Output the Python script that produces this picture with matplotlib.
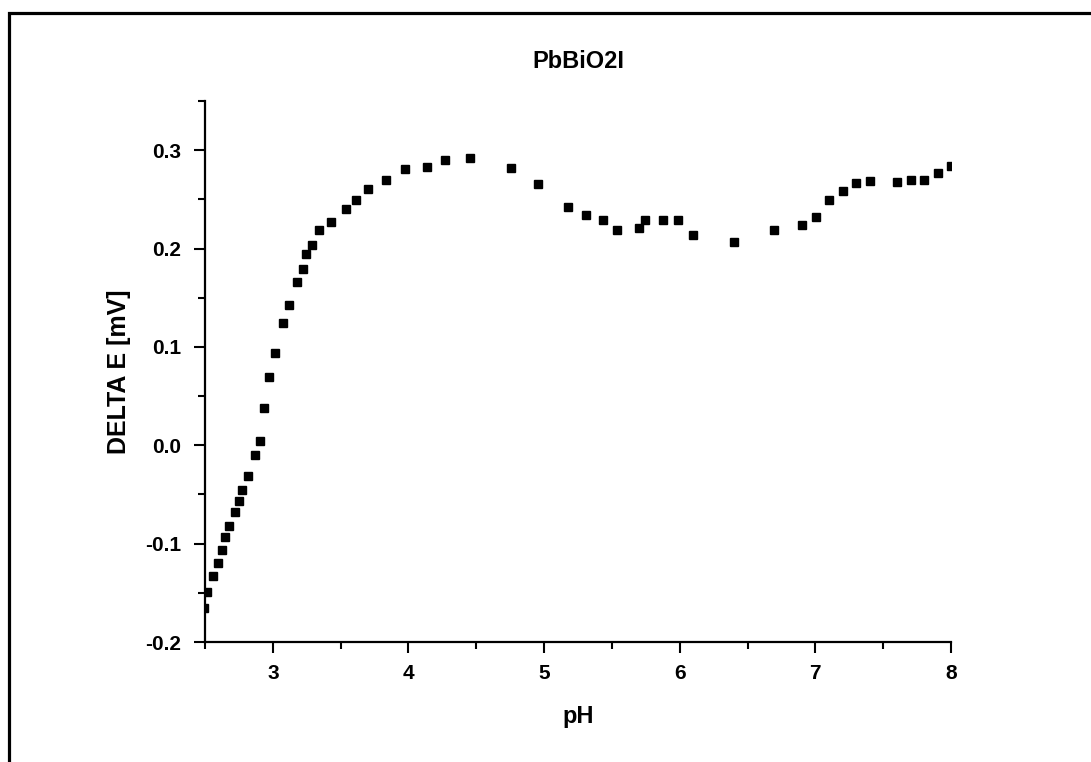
import matplotlib
matplotlib.use('Agg')
import matplotlib.pyplot as plt
from matplotlib.ticker import MultipleLocator
from matplotlib.patches import Rectangle

plt.rcParams['font.family'] = ['Liberation Sans', 'DejaVu Sans']
plt.rcParams['font.weight'] = 'bold'

# pH values and potential difference
ph = [2.495, 2.517, 2.557, 2.598, 2.628, 2.648, 2.680, 2.722, 2.749, 2.773,
      2.820, 2.869, 2.906, 2.938, 2.975, 3.019, 3.074, 3.118, 3.177, 3.221,
      3.248, 3.290, 3.342, 3.431, 3.539, 3.613, 3.704, 3.832, 3.975, 4.134,
      4.273, 4.457, 4.755, 4.954, 5.176, 5.306, 5.434, 5.535, 5.698, 5.747,
      5.875, 5.988, 6.097, 6.400, 6.697, 6.899, 7.003, 7.101, 7.202, 7.301,
      7.402, 7.601, 7.702, 7.800, 7.904, 8.000]
delta_e = [-0.165, -0.149, -0.133, -0.120, -0.106, -0.093, -0.082, -0.068, -0.057, -0.045,
           -0.031, -0.010, 0.004, 0.038, 0.069, 0.094, 0.124, 0.143, 0.166, 0.179,
           0.194, 0.204, 0.219, 0.227, 0.240, 0.249, 0.261, 0.270, 0.281, 0.283,
           0.290, 0.292, 0.282, 0.266, 0.242, 0.234, 0.229, 0.219, 0.221, 0.229,
           0.229, 0.229, 0.214, 0.207, 0.219, 0.224, 0.232, 0.249, 0.259, 0.267,
           0.269, 0.268, 0.270, 0.270, 0.277, 0.284]

fig = plt.figure(figsize=(10.91, 7.62), dpi=100)
ax = fig.add_axes([205 / 1091, 1 - 642 / 762, (951 - 205) / 1091, (642 - 101) / 762])

ax.plot(ph, delta_e, 's', color='black', markersize=5.2, clip_on=True)

ax.set_xlim(2.5, 8)
ax.set_ylim(-0.2, 0.35)
ax.xaxis.set_major_locator(MultipleLocator(1))
ax.xaxis.set_minor_locator(MultipleLocator(0.5))
ax.yaxis.set_minor_locator(MultipleLocator(0.05))
ax.set_yticks([-0.2, -0.1, 0.0, 0.1, 0.2, 0.3])
ax.set_yticklabels(['-0.2', '-0.1', '0.0', '0.1', '0.2', '0.3'])

for s in ['top', 'right']:
    ax.spines[s].set_visible(False)
for s in ['left', 'bottom']:
    ax.spines[s].set_linewidth(1.6)

ax.tick_params(which='major', direction='out', length=8, width=1.5, labelsize=15)
ax.tick_params(axis='y', which='major', pad=9)
ax.tick_params(axis='x', which='major', pad=8)
ax.tick_params(which='minor', direction='out', length=5, width=1.5)

ax.set_title('PbBiO2I', fontsize=17, fontweight='bold', pad=24)
ax.set_xlabel('pH', fontsize=17, fontweight='bold', labelpad=16)
ax.set_ylabel('DELTA E [mV]', fontsize=18, fontweight='bold', labelpad=10)

# outer frame (cut off on the right and bottom)
fig.patches.append(Rectangle((8.5 / 1091, -0.1), 1.2, 1 - 12.5 / 762 + 0.1,
                             transform=fig.transFigure, fill=False,
                             edgecolor='black', linewidth=2.3))

plt.savefig('out.png', dpi=100)
